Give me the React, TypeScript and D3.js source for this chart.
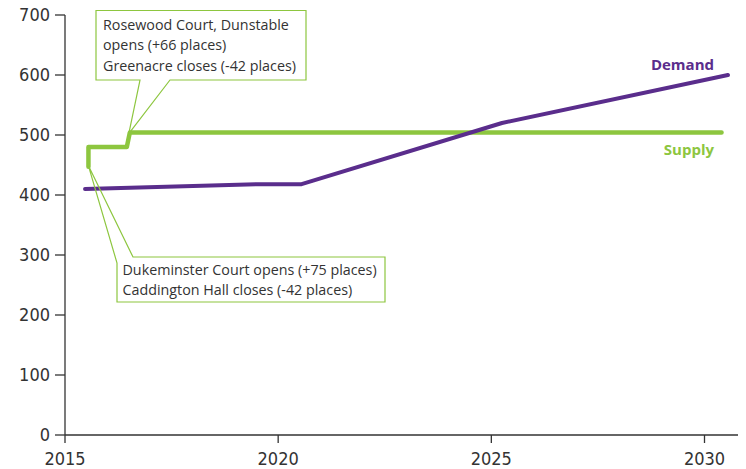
import React from "react";
import * as d3 from "d3";

const W = 746;
const H = 469;

// Data
const demandYears = [2015.47, 2019.5, 2020.55, 2025.25, 2030.55];
const demandValues = [410, 418, 418, 520, 600];

const supplyYears = [2015.55, 2015.55, 2016.45, 2016.52, 2030.4];
const supplyValues = [447, 480, 480, 504, 504];

const xTicks = [2015, 2020, 2025, 2030];
const yTicks = [0, 100, 200, 300, 400, 500, 600, 700];

const note1Lines = ["Rosewood Court, Dunstable", "opens (+66 places)", "Greenacre closes (-42 places)"];
const note2Lines = ["Dukeminster Court opens (+75 places)", "Caddington Hall closes (-42 places)"];

const PURPLE = "#5a2d8c";
const GREEN = "#8dc63f";
const AXIS = "#333333";

export default function App() {
  const x = d3.scaleLinear().domain([2015, 2030]).range([65, 704.5]);
  const y = d3.scaleLinear().domain([0, 700]).range([435, 15]);

  const line = d3
    .line<[number, number]>()
    .x((d) => x(d[0]))
    .y((d) => y(d[1]));

  const demandPts: [number, number][] = demandYears.map((yr, i) => [yr, demandValues[i]]);
  const supplyPts: [number, number][] = supplyYears.map((yr, i) => [yr, supplyValues[i]]);

  // annotation targets from data
  const t1x = x(supplyYears[3]) - 1;
  const t1y = y(supplyValues[3]) + 1;
  const t2x = x(supplyYears[0]);
  const t2y = y(supplyValues[0]) - 1;

  const b1 = { l: 96, t: 10.5, r: 306, b: 80 };
  const b2 = { l: 117, t: 257, r: 385, b: 302 };

  const note1Path = `M${b1.l},${b1.t}H${b1.r}V${b1.b}H170L${t1x},${t1y}L140,${b1.b}H${b1.l}Z`;
  const note2Path = `M133,${b2.t}H${b2.r}V${b2.b}H${b2.l}V263L${t2x},${t2y}Z`;

  const tickFont = "'DejaVu Sans Condensed', 'DejaVu Sans', sans-serif";
  const textFont = "'Open Sans', Lato, sans-serif";

  return (
    <svg
      width={W}
      height={H}
      style={{ position: "absolute", left: 0, top: 0, background: "#fff" }}
    >
      {/* axes */}
      <g stroke={AXIS} strokeWidth={1.3}>
        <line x1={x(2015)} x2={x(2015)} y1={y(700)} y2={y(0)} />
        <line x1={x(2015)} x2={738} y1={y(0)} y2={y(0)} />
        {yTicks.map((t) => (
          <line key={"yt" + t} x1={55} x2={x(2015)} y1={y(t)} y2={y(t)} />
        ))}
        {xTicks.map((t) => (
          <line key={"xt" + t} x1={x(t)} x2={x(t)} y1={y(0)} y2={y(0) + 8} />
        ))}
      </g>
      <g fontFamily={tickFont} fontSize={18} fill={AXIS}>
        {yTicks.map((t) => (
          <text key={"yl" + t} x={50} y={y(t)} dy="0.35em" textAnchor="end">
            {t}
          </text>
        ))}
        {xTicks.map((t) => (
          <text key={"xl" + t} x={x(t)} y={465} textAnchor="middle">
            {t}
          </text>
        ))}
      </g>

      {/* series */}
      <path
        d={line(supplyPts) || ""}
        fill="none"
        stroke={GREEN}
        strokeWidth={4.5}
        strokeLinejoin="round"
        strokeLinecap="round"
      />
      <path
        d={line(demandPts) || ""}
        fill="none"
        stroke={PURPLE}
        strokeWidth={4}
        strokeLinejoin="round"
        strokeLinecap="round"
      />

      {/* series labels */}
      <text x={714} y={70} textAnchor="end" fontFamily={textFont} fontWeight="bold" fontSize={15} fill={PURPLE}>
        Demand
      </text>
      <text x={714} y={155} textAnchor="end" fontFamily={textFont} fontWeight="bold" fontSize={15} fill={GREEN}>
        Supply
      </text>

      {/* annotations */}
      <path d={note1Path} fill="#fff" fillOpacity={0} stroke={GREEN} strokeWidth={1.2} />
      <path d={note2Path} fill="#fff" fillOpacity={0} stroke={GREEN} strokeWidth={1.2} />
      <g fontFamily={textFont} fontSize={14.3} fill="#333">
        {note1Lines.map((s, i) => (
          <text key={"n1" + i} x={103} y={29.5 + i * 20.5}>
            {s}
          </text>
        ))}
        {note2Lines.map((s, i) => (
          <text key={"n2" + i} x={122.5} y={275 + i * 20}>
            {s}
          </text>
        ))}
      </g>
    </svg>
  );
}
